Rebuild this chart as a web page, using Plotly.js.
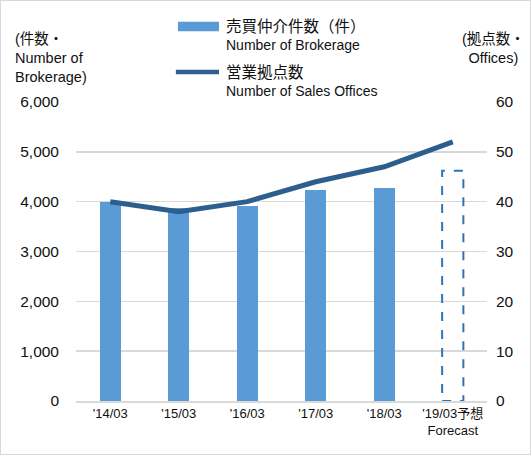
<!DOCTYPE html>
<html>
<head>
<meta charset="utf-8">
<script src="https://cdn.plot.ly/plotly-3.0.1.min.js"></script>
<style>
  body { margin: 0; }
  #chart { width: 529px; height: 453px; border: 1px solid #d9d9d9; }
</style>
</head>
<body>
<div id="chart"></div>
<script>
// data
var periods = ["'14/03", "'15/03", "'16/03", "'17/03", "'18/03", "'19/03"];
var periodLabels = ["'14/03", "'15/03", "'16/03", "'17/03", "'18/03", "'19/03予想<br>Forecast"];
var brokerage = [4000, 3870, 3920, 4240, 4280, 4620]; // last one is the forecast
var offices = [40, 38, 40, 44, 47, 52];
var forecastIndex = 5;

var barWidth = 0.31;
var fontJP = "'Liberation Sans', 'Noto Sans CJK JP', Arial, sans-serif";

// real bars, the forecast bar is drawn as a dashed outline below
var barColors = brokerage.map(function (v, i) {
  return i == forecastIndex ? "rgba(0,0,0,0)" : "#5b9bd5";
});

var traces = [
  {
    x: periods,
    y: brokerage,
    type: "bar",
    width: barWidth,
    marker: { color: barColors },
    hoverinfo: "x+y",
    showlegend: false
  },
  {
    x: periods,
    y: offices,
    yaxis: "y2",
    type: "scatter",
    mode: "lines",
    line: { color: "#2c5f8d", width: 5 },
    showlegend: false
  }
];

var layout = {
  width: 529,
  height: 453,
  margin: { l: 75, r: 43, t: 101, b: 53 },
  paper_bgcolor: "white",
  plot_bgcolor: "white",
  font: { family: fontJP, color: "#222" },
  bargap: 0,
  xaxis: {
    type: "category",
    tickvals: periods,
    ticktext: periodLabels,
    tickfont: { size: 13, color: "#111" },
    showline: true,
    linecolor: "#d9d9d9",
    linewidth: 1.5,
    ticks: "",
    showgrid: false,
    fixedrange: true
  },
  yaxis: {
    range: [0, 6000],
    dtick: 1000,
    tickformat: ",d",
    tickfont: { size: 15.5, color: "#111" },
    gridcolor: "#d9d9d9",
    gridwidth: 1.5,
    zeroline: false,
    ticklabelstandoff: 16,
    fixedrange: true
  },
  yaxis2: {
    overlaying: "y",
    side: "right",
    range: [0, 60],
    dtick: 10,
    tickfont: { size: 15.5, color: "#111" },
    showgrid: false,
    zeroline: false,
    ticklabelstandoff: 8,
    fixedrange: true
  },
  shapes: [
    // forecast bar: dashed outline
    {
      type: "rect",
      xref: "x",
      yref: "y",
      x0: forecastIndex - barWidth / 2,
      x1: forecastIndex + barWidth / 2,
      y0: 0,
      y1: brokerage[forecastIndex],
      line: { color: "#2e75b6", width: 2, dash: "dash" },
      fillcolor: "rgba(0,0,0,0)"
    },
    // legend swatches
    {
      type: "rect",
      xref: "paper",
      yref: "paper",
      x0: 0.248,
      x1: 0.348,
      y0: 1.237,
      y1: 1.268,
      line: { width: 0 },
      fillcolor: "#5b9bd5"
    },
    {
      type: "line",
      xref: "paper",
      yref: "paper",
      x0: 0.243,
      x1: 0.348,
      y0: 1.1,
      y1: 1.1,
      line: { color: "#2c5f8d", width: 4.5 }
    }
  ],
  annotations: [
    {
      xref: "paper", yref: "paper", x: 0.36, y: 1.251,
      xanchor: "left", yanchor: "middle", showarrow: false,
      text: "売買仲介件数（件）", font: { size: 15.5, color: "#111" }
    },
    {
      xref: "paper", yref: "paper", x: 0.36, y: 1.19,
      xanchor: "left", yanchor: "middle", showarrow: false,
      text: "Number of Brokerage", font: { size: 14, color: "#111" }
    },
    {
      xref: "paper", yref: "paper", x: 0.36, y: 1.1,
      xanchor: "left", yanchor: "middle", showarrow: false,
      text: "営業拠点数", font: { size: 15.5, color: "#111" }
    },
    {
      xref: "paper", yref: "paper", x: 0.36, y: 1.037,
      xanchor: "left", yanchor: "middle", showarrow: false,
      text: "Number of Sales Offices", font: { size: 14, color: "#111" }
    },
    {
      xref: "paper", yref: "paper", x: -0.153, y: 1.245,
      xanchor: "left", yanchor: "top", align: "left", showarrow: false,
      text: "(件数・<br>Number of<br>Brokerage)", font: { size: 14.5, color: "#111" }
    },
    {
      xref: "paper", yref: "paper", x: 1.098, y: 1.245,
      xanchor: "right", yanchor: "top", align: "center", showarrow: false,
      text: "(拠点数・<br>Offices)", font: { size: 14.5, color: "#111" }
    }
  ]
};

Plotly.newPlot("chart", traces, layout, { displayModeBar: false, staticPlot: true });
</script>
</body>
</html>
